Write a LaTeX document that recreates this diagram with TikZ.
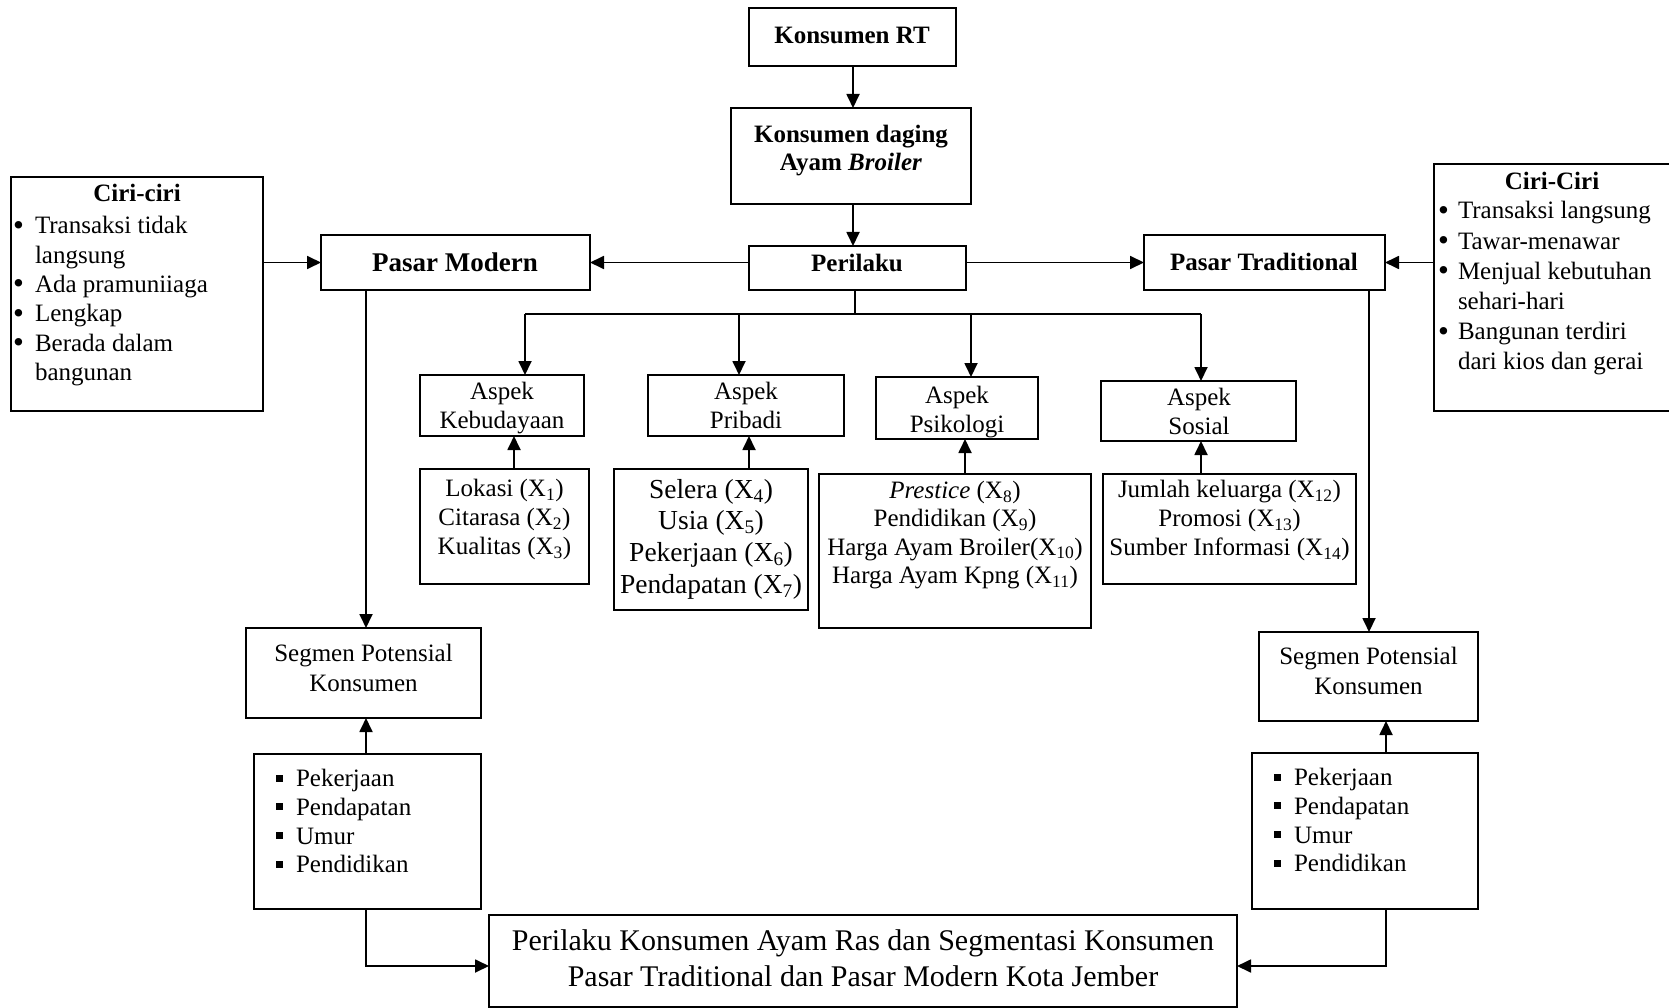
\documentclass[tikz,border=0pt]{standalone}
\usepackage{fontspec}
\setmainfont{Liberation Serif}
\usetikzlibrary{arrows.meta,calc}
\newcommand\fsz[2]{\fontsize{#1}{#2}\selectfont}
\newcommand\blt[1]{\makebox[#1][l]{\raisebox{-1.5pt}{\fontsize{31}{29}\selectfont\textbullet}}}
\newcommand\sqb{\makebox[20pt][l]{\rule[5pt]{7pt}{7pt}}}
\newcommand\boxat[5]{\node[box, minimum width={#4pt-#2pt}, minimum height={#5pt-#3pt}] (#1) at (#2,#3) {};}
\tikzset{
  box/.style={draw, line width=1.8pt, inner sep=0pt, outer sep=0pt, anchor=north west},
  arr/.style={line width=1.8pt, -{Triangle[length=14pt,width=13pt]}},
  ln/.style={line width=1.8pt},
  txt/.style={inner sep=0pt, outer sep=0pt, font=\fsz{25}{29}},
}
\begin{document}
\begin{tikzpicture}[x=1pt,y=-1pt]
\useasboundingbox (0,0) rectangle (1669,1008);
% boxes
\boxat{rt}{749}{8}{956}{66}
\boxat{kd}{731}{108}{971}{204}
\boxat{per}{749}{246}{966}{290}
\boxat{pm}{321}{235}{590}{290}
\boxat{pt}{1144}{235}{1385}{290}
\boxat{lc}{11}{177}{263}{411}
\boxat{rc}{1434}{164}{1672}{411}
\boxat{ak}{420}{375}{584}{436}
\boxat{ap}{648}{375}{844}{436}
\boxat{aps}{876}{377}{1038}{439}
\boxat{as}{1101}{381}{1296}{441}
\boxat{fa}{420}{469}{589}{584}
\boxat{fb}{614}{469}{808}{610}
\boxat{fc}{819}{474}{1091}{628}
\boxat{fd}{1103}{474}{1356}{584}
\boxat{sl}{246}{628}{481}{718}
\boxat{bl}{254}{754}{481}{909}
\boxat{sr}{1259}{632}{1478}{721}
\boxat{br}{1252}{753}{1478}{909}
\boxat{fin}{489}{915}{1237}{1007}
% texts
\node[txt, anchor=base, font=\fsz{25}{29}\bfseries] (rt-t) at (852,44) {Konsumen RT};
\node[txt, anchor=north, align=center, font=\fsz{25}{28}\bfseries] (kd-t) at (851,125.5) {Konsumen daging\\Ayam \textit{Broiler}};
\node[txt, anchor=base, font=\fsz{25}{29}\bfseries] (per-t) at (857,272) {Perilaku};
\node[txt, anchor=base, font=\fsz{27}{29}\bfseries] (pm-t) at (455,271) {Pasar Modern};
\node[txt, anchor=base, font=\fsz{25}{29}\bfseries] (pt-t) at (1264,270) {Pasar Traditional};
\node[txt, anchor=base, font=\fsz{25}{29}\bfseries] (lc-t) at (137,202) {Ciri-ciri};
\node[txt, anchor=north west, align=left, font=\fsz{25}{29.3}] (lc-l) at (13,216.5)
  {\blt{22pt}Transaksi tidak\\\hspace*{22pt}langsung\\\blt{22pt}Ada pramuniiaga\\\blt{22pt}Lengkap\\\blt{22pt}Berada dalam\\\hspace*{22pt}bangunan};
\node[txt, anchor=base, font=\fsz{25}{29}\bfseries] (rc-t) at (1552,190) {Ciri-Ciri};
\node[txt, anchor=north west, align=left, font=\fsz{25}{30.2}] (rc-l) at (1438,201.5)
  {\blt{20pt}Transaksi langsung\\\blt{20pt}Tawar-menawar\\\blt{20pt}Menjual kebutuhan\\\hspace*{20pt}sehari-hari\\\blt{20pt}Bangunan terdiri\\\hspace*{20pt}dari kios dan gerai};
\node[txt, anchor=north, align=center] (ak-t) at (502,382.5) {Aspek\\Kebudayaan};
\node[txt, anchor=north, align=center] (ap-t) at (746,382.5) {Aspek\\Pribadi};
\node[txt, anchor=north, align=center] (aps-t) at (957,386) {Aspek\\Psikologi};
\node[txt, anchor=north, align=center] (as-t) at (1199,388) {Aspek\\Sosial};
\node[txt, anchor=north, align=center] (fa-t) at (504.5,479.5) {Lokasi (X\textsubscript{1})\\Citarasa (X\textsubscript{2})\\Kualitas (X\textsubscript{3})};
\node[txt, anchor=north, align=center, font=\fsz{27.5}{31.8}] (fb-t) at (711,479) {Selera (X\textsubscript{4})\\Usia (X\textsubscript{5})\\Pekerjaan (X\textsubscript{6})\\Pendapatan (X\textsubscript{7})};
\node[txt, anchor=north, align=center, font=\fsz{25}{28.4}] (fc-t) at (955,481) {\textit{Prestice} (X\textsubscript{8})\\Pendidikan (X\textsubscript{9})\\Harga Ayam Broiler(X\textsubscript{10})\\Harga Ayam Kpng (X\textsubscript{11})};
\node[txt, anchor=north, align=center] (fd-t) at (1229.5,480.5) {Jumlah keluarga (X\textsubscript{12})\\Promosi (X\textsubscript{13})\\Sumber Informasi (X\textsubscript{14})};
\node[txt, anchor=north, align=center, font=\fsz{25}{30}] (sl-t) at (363.5,644.5) {Segmen Potensial\\Konsumen};
\node[txt, anchor=north, align=center, font=\fsz{25}{30}] (sr-t) at (1368.5,647.5) {Segmen Potensial\\Konsumen};
\node[txt, anchor=north west, align=left, font=\fsz{25}{28.6}] (bl-l) at (276,769.5)
  {\sqb Pekerjaan\\\sqb Pendapatan\\\sqb Umur\\\sqb Pendidikan};
\node[txt, anchor=north west, align=left, font=\fsz{25}{28.6}] (br-l) at (1274,768.5)
  {\sqb Pekerjaan\\\sqb Pendapatan\\\sqb Umur\\\sqb Pendidikan};
\node[txt, anchor=north, align=center, font=\fsz{30}{36.5}] (fin-t) at (863,929.5) {Perilaku Konsumen Ayam Ras dan Segmentasi Konsumen\\Pasar Traditional dan Pasar Modern Kota Jember};
% junction coordinates
\coordinate (x1) at (853,0);
\coordinate (hy) at (0,262.5);
\coordinate (b0) at (855,314);
\coordinate (b1) at (525,314);
\coordinate (b2) at (739,314);
\coordinate (b3) at (971,314);
\coordinate (b4) at (1201,314);
\coordinate (u1) at (514,0);
\coordinate (u2) at (749,0);
\coordinate (u3) at (965,0);
\coordinate (u4) at (1201,0);
\coordinate (vl) at (366,0);
\coordinate (vr) at (1369,0);
\coordinate (wr) at (1386,0);
% connectors
\draw[arr] (rt.south -| x1) -- (kd.north -| x1);
\draw[arr] (kd.south -| x1) -- (per.north -| x1);
\draw[arr] (per.west |- hy) -- (pm.east |- hy);
\draw[arr] (per.east |- hy) -- (pt.west |- hy);
\draw[arr] (lc.east |- hy) -- (pm.west |- hy);
\draw[arr] (rc.west |- hy) -- (pt.east |- hy);
\draw[ln] (per.south -| b0) -- (b0);
\draw[ln] (b1) -- (b4);
\draw[arr] (b1) -- (ak.north -| b1);
\draw[arr] (b2) -- (ap.north -| b2);
\draw[arr] (b3) -- (aps.north -| b3);
\draw[arr] (b4) -- (as.north -| b4);
\draw[arr] (fa.north -| u1) -- (ak.south -| u1);
\draw[arr] (fb.north -| u2) -- (ap.south -| u2);
\draw[arr] (fc.north -| u3) -- (aps.south -| u3);
\draw[arr] (fd.north -| u4) -- (as.south -| u4);
\draw[arr] (pm.south -| vl) -- (sl.north -| vl);
\draw[arr] (bl.north -| vl) -- (sl.south -| vl);
\draw[arr] (pt.south -| vr) -- (sr.north -| vr);
\draw[arr] (br.north -| wr) -- (sr.south -| wr);
\draw[arr] (bl.south -| vl) |- ($(fin.west)+(0,5)$);
\draw[arr] (br.south -| wr) |- ($(fin.east)+(0,5)$);
\end{tikzpicture}
\end{document}
